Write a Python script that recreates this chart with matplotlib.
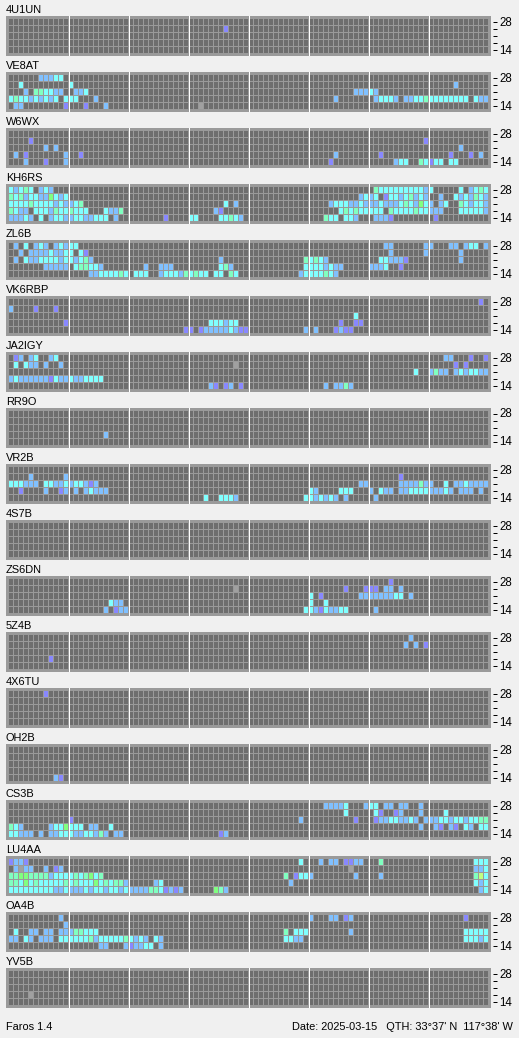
import numpy as np
import matplotlib
matplotlib.use('Agg')
import matplotlib.pyplot as plt
from matplotlib.transforms import ScaledTranslation

# band rows run top to bottom (28 MHz first), each row holds (first slot, levels)
# p purple, b blue, c cyan, g sea green, l lime, y yellow green, n grey (no data)
UN4U1 = [[], [(43, 'p')], [], [], []]
VE8AT = [[(6, 'bbbcc')],
         [(2, 'c'), (12, 'c'), (89, 'b')],
         [(3, 'b'), (5, 'ggccbb'), (13, 'bbc'), (69, 'bbbcb')],
         [(0, 'cgccbcbcbc'), (11, 'ccc'), (17, 'b'), (65, 'b'), (73, 'bcccb'), (79, 'bbccgcccccccc'), (93, 'cbb')],
         [(1, 'bb'), (11, 'p'), (15, 'p'), (19, 'b'), (38, 'n')]]
W6WX = [[],
        [(4, 'p'), (83, 'p')],
        [(7, 'b'), (9, 'b'), (90, 'b')],
        [(1, 'b'), (3, 'p'), (11, 'b'), (14, 'p'), (65, 'b'), (74, 'p'), (88, 'p'), (92, 'p'), (94, 'b')],
        [(3, 'b'), (7, 'p'), (11, 'b'), (64, 'p'), (77, 'bcc'), (82, 'gcpcc'), (88, 'cc')]]
KH6RS = [[(0, 'cbcgc'), (6, 'bcb'), (73, 'gcccccccccbc'), (90, 'c'), (92, 'bcgc')],
         [(0, 'gcgbccbblcbc'), (70, 'bcbc'), (75, 'pccbcgbcb'), (86, 'b'), (89, 'cbcbgcb')],
         [(0, 'ccccgccccbcbbcg'), (43, 'c'), (45, 'b'), (64, 'bcccbbcbbbcbbbcgcblcb'), (86, 'bc'), (90, 'gcbccb')],
         [(0, 'gcbb'), (5, 'cccbgccgccc'), (19, 'cbbg'), (41, 'bp'), (66, 'cgcgccccc'), (76, 'gccccgccbbb'), (90, 'cccccb')],
         [(0, 'bbbcb'), (6, 'c'), (8, 'bccbbccbbccc'), (21, 'b'), (31, 'p'), (36, 'cc'), (42, 'ccgcb'),
          (63, 'gcc'), (67, 'ccb'), (73, 'bbbp'), (85, 'p')]]
ZL6B = [[(1, 'b'), (3, 'c'), (5, 'bcb'), (9, 'bcbcc'), (75, 'bb'), (83, 'bb'), (88, 'bb'), (91, 'bcc'), (95, 'b')],
        [(2, 'b'), (4, 'bbbbcbbcc'), (14, 'cp'), (76, 'b'), (83, 'b'), (90, 'b')],
        [(1, 'b'), (3, 'cbbccccbccbcgb'), (42, 'b'), (59, 'gcgcb'), (74, 'ccbbbp'), (90, 'b')],
        [(7, 'bbbbb'), (13, 'cggccb'), (27, 'b'), (30, 'bbb'), (42, 'cgb'), (59, 'ccccbcbb'), (72, 'bbbc'), (78, 'p')],
        [(16, 'bbccccgc'), (25, 'ccc'), (30, 'bcccbgcgcc'), (41, 'cc'), (44, 'gc'), (58, 'bccccgcb')]]
VK6RBP = [[(94, 'p')],
          [(0, 'b'), (5, 'p'), (9, 'p')],
          [(69, 'c')],
          [(11, 'p'), (40, 'cccbcc'), (66, 'p'), (69, 'pp')],
          [(35, 'pp'), (38, 'p'), (39, 'bbbbbcbpp'), (59, 'b'), (61, 'b'), (65, 'pbpp')]]
JA2IGY = [[(1, 'pb'), (4, 'bc'), (8, 'bc'), (87, 'bb'), (92, 'p'), (95, 'p')],
          [(1, 'c'), (3, 'cbb'), (7, 'b'), (10, 'b'), (45, 'n'), (89, 'p'), (91, 'p')],
          [(81, 'c'), (84, 'bgbb'), (89, 'bcbccbb')],
          [(0, 'bcbbbbbbpcbbcbbcccc')],
          [(40, 'bp'), (43, 'pb'), (46, 'p'), (63, 'b'), (65, 'bbgb')]]
RR9O = [[], [], [], [(19, 'b')], []]
VR2B = [[],
        [(4, 'b'), (11, 'b'), (78, 'p')],
        [(0, 'cccbbb'), (7, 'ccbbcbccbpb'), (70, 'bb'), (78, 'bbbbgbb'), (87, 'c'), (89, 'bbcbbbb')],
        [(2, 'p'), (7, 'b'), (10, 'pb'), (13, 'b'), (15, 'bcbbb'), (60, 'cb'), (66, 'ccc'), (72, 'b'), (74, 'cbb'),
         (78, 'bbccccbbbcb'), (90, 'bbb'), (94, 'b')],
        [(39, 'c'), (42, 'cccb'), (59, 'ccbcbcb'), (67, 'b'), (73, 'b')]]
S7B4 = [[], [], [], [], []]
ZS6DN = [[(76, 'p')],
         [(45, 'n'), (67, 'p'), (71, 'ppp'), (75, 'bb'), (78, 'b')],
         [(60, 'c'), (62, 'p'), (70, 'bbbbbbbcc'), (80, 'b')],
         [(20, 'cbb'), (60, 'c'), (63, 'c')],
         [(19, 'b'), (21, 'pbb'), (59, 'ccbpcbbcc'), (73, 'b')]]
Z4B5 = [[(80, 'b')], [(79, 'b'), (81, 'b'), (83, 'p')], [], [(8, 'p')], []]
X6TU4 = [[(7, 'p')], [], [], [], []]
OH2B = [[], [], [], [], [(9, 'bp')]]
CS3B = [[(63, 'bbbbc'), (71, 'bcc'), (75, 'bb'), (78, 'bb'), (82, 'b')],
        [(67, 'c'), (73, 'cp'), (77, 'pb'), (82, 'b'), (87, 'c')],
        [(12, 'p'), (58, 'b'), (69, 'p'), (73, 'pbbccbbcb'), (83, 'bbbccbccbccgg')],
        [(0, 'gcb'), (8, 'bccl'), (12, 'ccc'), (16, 'bb'), (20, 'c'), (82, 'b'), (85, 'bp'), (88, 'bp'), (91, 'cb'), (94, 'cc')],
        [(0, 'ccbbb'), (6, 'b'), (8, 'bbcccbbccbgb'), (21, 'bb'), (42, 'pb')]]
LU4AA = [[(0, 'pbbp'), (58, 'c'), (62, 'b'), (64, 'bb'), (67, 'ppbb'), (74, 'g'), (93, 'ccc')],
         [(1, 'bnbb'), (7, 'b'), (9, 'pb'), (68, 'n'), (93, 'bbc')],
         [(0, 'ggllggggbccccgcglcg'), (55, 'g'), (57, 'pccb'), (69, 'b'), (74, 'b'), (93, 'gyc')],
         [(0, 'ggclcgcccccgcgccclcgcggb'), (29, 'bc'), (56, 'b'), (93, 'cbc')],
         [(0, 'cccccccccbbcbbbcbccbccbcbbbbggcpbpb'), (41, 'lgb'), (94, 'bc')]]
OA4B = [[(10, 'b'), (60, 'b'), (64, 'bb'), (67, 'pb'), (91, 'p')],
        [(11, 'b')],
        [(1, 'c'), (4, 'bb'), (7, 'bb'), (10, 'bbbggccc'), (55, 'g'), (57, 'ccc'), (68, 'b'), (91, 'ccccc')],
        [(0, 'bb'), (3, 'cb'), (6, 'bbb'), (10, 'ccccccgbcccccgcbcb'), (29, 'cb'), (55, 'ccbb'), (91, 'cccbc')],
        [(18, 'bb'), (23, 'bpbbcc'), (30, 'b')]]
YV5B = [[], [], [], [(4, 'n')], []]

station_names = ['4U1UN', 'VE8AT', 'W6WX', 'KH6RS', 'ZL6B', 'VK6RBP', 'JA2IGY', 'RR9O', 'VR2B',
                 '4S7B', 'ZS6DN', '5Z4B', '4X6TU', 'OH2B', 'CS3B', 'LU4AA', 'OA4B', 'YV5B']
station_rows = [UN4U1, VE8AT, W6WX, KH6RS, ZL6B, VK6RBP, JA2IGY, RR9O, VR2B,
                S7B4, ZS6DN, Z4B5, X6TU4, OH2B, CS3B, LU4AA, OA4B, YV5B]
band_labels = ['28', '', '', '', '14']
footer_left = 'Faros 1.4'
footer_right = "Date: 2025-03-15   QTH: 33\u00b037' N  117\u00b038' W"

level_colors = {'p': '#8888ff', 'b': '#80c0ff', 'c': '#80ffff', 'g': '#80ffc0',
                'l': '#80ff80', 'y': '#c0ff80', 'n': '#a0a0a0'}
CELL = '#6e6e6e'
PANEL = '#9a9a9a'
SLOTS = 96

W, H = 519, 1038
plt.rcParams['font.family'] = ['Liberation Sans', 'DejaVu Sans']
plt.rcParams['font.size'] = 7.9
fig = plt.figure(figsize=(W / 100, H / 100), dpi=100, facecolor='#f0f0f0')

slots = np.arange(SLOTS)
up_1px = ScaledTranslation(0, 1 / 100, fig.dpi_scale_trans)
for k, (name, rows) in enumerate(zip(station_names, station_rows)):
    top = 16 + 56 * k
    ax = fig.add_axes([6 / W, 1 - (top + 40) / H, 485 / W, 40 / H], facecolor=PANEL)
    ax.set_xlim(-0.6, SLOTS + 0.4)
    ax.set_ylim(34 / 7, -6 / 7)
    for r, runs in enumerate(rows):
        colors = [CELL] * SLOTS
        for start, levels in runs:
            for i, code in enumerate(levels):
                colors[start + i] = level_colors[code]
        ax.bar(slots, 6 / 7, width=0.8, bottom=r - 3 / 7, align='edge', color=colors,
               linewidth=0, antialiased=False)
    for hour in range(12, SLOTS, 12):
        ax.axvline(hour - 0.1, color='white', lw=0.72)
    for s in ax.spines.values():
        s.set_visible(False)
    ax.spines['right'].set_position(('outward', 1.44))
    ax.set_xticks([])
    ax.yaxis.tick_right()
    ax.set_yticks(range(5))
    ax.set_yticklabels(band_labels)
    ax.tick_params(axis='y', length=2.9, width=0.72, pad=1.6, color='black', labelsize=8.3)
    for label in ax.get_yticklabels():
        label.set_transform(label.get_transform() + up_1px)
    fig.text(6 / W, 1 - (top - 3) / H, name, fontsize=7.9, ha='left', va='baseline')

fig.text(6 / W, 1 - 1030 / H, footer_left, fontsize=7.9, ha='left', va='baseline')
fig.text(513 / W, 1 - 1030 / H, footer_right, fontsize=7.9, ha='right', va='baseline')
fig.savefig('out.png', dpi=100, facecolor=fig.get_facecolor())
